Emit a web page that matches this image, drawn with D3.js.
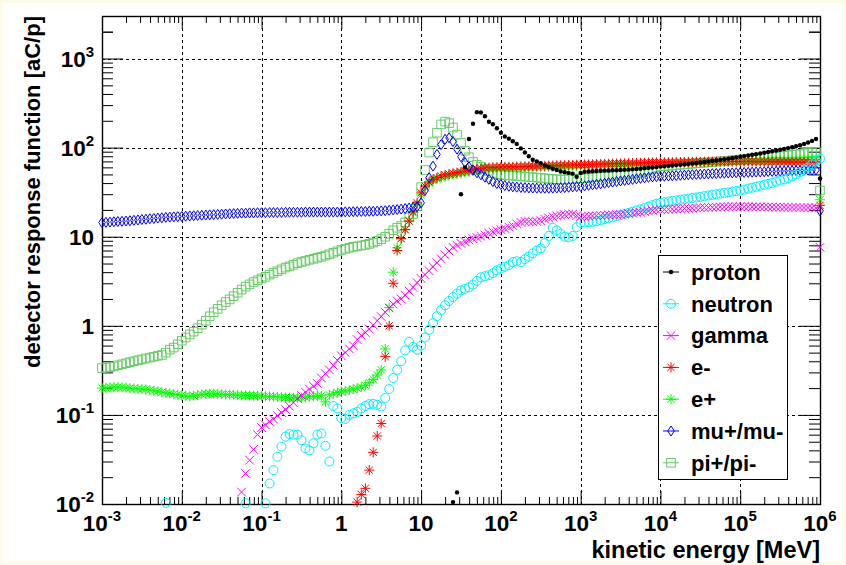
<!DOCTYPE html>
<html>
<head>
<meta charset="utf-8">
<script src="https://cdn.jsdelivr.net/npm/d3@7"></script>
<style>
  body { margin: 0; background: #fffbe9; }
  text { font-family: "Liberation Sans", Arial, Helvetica, sans-serif; font-weight: bold; fill: #000; }
</style>
</head>
<body>
<svg id="chart" width="846" height="565"></svg>
<script>
const n = null;

// energy grid: 20 points per decade, 1 keV .. 1 TeV
const mantissas = [1, 1.12, 1.26, 1.41, 1.58, 1.78, 2, 2.24, 2.51, 2.82, 3.16, 3.55, 3.98, 4.47, 5.01, 5.62, 6.31, 7.08, 7.94, 8.91];
const decades = [1e-3, 1e-2, 1e-1, 1, 10, 100, 1e3, 1e4, 1e5];
const lastEnergy = 1e6;
const energies = decades.flatMap(d => mantissas.map(m => m * d)).concat([lastEnergy]);

// response values [aC/p], one row per decade
const proton = [
  n,n,n,n,n,n,n,n,n,n,n,n,n,n,n,n,n,n,n,n,
  n,n,n,n,n,n,n,n,n,n,n,n,n,n,n,n,n,n,n,n,
  n,n,n,n,n,n,n,n,n,n,n,n,n,n,n,n,n,n,n,n,
  n,n,n,n,n,n,n,n,n,n,n,n,n,n,n,n,n,n,n,n,
  n,n,n,n,n,n,n,n,0.0105,0.0135,30,60,125,185,250,248,225,195,183,165,
  147,133,126,118,110,98,88,80,73,70,67,63,60.5,58,56,54,53,52,51,47,
  52,53.5,54,54.3,54.6,55,55.2,55.4,55.6,55.8,56,56.3,56.6,57,57.5,58,58.6,59.2,59.9,60.6,
  61.2,61.8,62.4,63,63.6,64.2,64.9,65.6,66.4,67.2,68,68.9,69.8,70.8,71.8,72.9,74,75.2,76.4,77.7,
  79,80.3,81.6,83,84.5,86,87.6,89.2,91,92.8,94.6,96.6,98.8,101,103.5,106.5,110,114,119,125,
  45
];
const neutron = [
  n,n,n,n,n,n,n,n,n,n,n,n,n,n,n,n,0.0103,n,n,n,
  n,n,n,n,n,n,n,n,n,n,n,n,n,n,n,n,0.0102,n,n,n,
  n,0.0102,0.017,0.024,0.034,0.044,0.057,0.061,0.06,0.06,0.052,0.042,0.04,0.048,0.06,0.062,0.045,0.03,0.126,0.118,
  0.092,0.09,0.1,0.104,0.108,0.118,0.126,0.132,0.133,0.13,0.124,0.155,0.195,0.26,0.32,0.4,0.53,0.66,0.58,0.54,
  0.6,0.74,0.9,1.07,1.28,1.5,1.7,1.9,2.1,2.3,2.5,2.6,2.7,2.9,3.2,3.5,3.6,3.7,3.9,4.2,
  4.4,4.6,4.8,5.2,5.3,5.2,5.6,6,6.5,7,7.4,8.5,10.2,12.6,11.8,10.8,10,9.8,10.2,12.8,
  14.3,14.5,14.6,14.7,14.9,15.3,15.7,16.1,16.5,17,17.5,18,18.5,19.1,19.7,20.3,21,21.8,22.6,23.4,
  24,24.4,24.8,25.2,25.6,26,26.4,26.8,27.2,27.6,28,28.5,29,29.5,30,30.5,31,31.5,32,32.5,
  33,33.8,34.6,35.5,36.4,37.3,38.2,39.2,40.3,41.5,42.8,44,45.5,47.5,50,53,56,60,65,71,
  75
];
const gamma = [
  n,n,n,n,n,n,n,n,n,n,n,n,n,n,n,n,n,n,n,n,
  n,n,n,n,n,n,n,n,n,n,n,n,n,n,n,0.0136,0.022,0.031,0.041,0.06,
  0.072,0.077,0.084,0.09,0.098,0.106,0.115,0.125,0.137,0.152,0.165,0.18,0.195,0.21,0.225,0.26,0.29,0.32,0.36,0.41,
  0.46,0.5,0.55,0.6,0.7,0.78,0.84,0.92,1.02,1.14,1.27,1.42,1.58,1.75,1.9,2,2.2,2.45,2.7,3.05,
  3.4,3.75,4.15,4.6,5.1,5.65,6.25,6.9,7.6,8,8.4,8.8,9.2,9.5,9.8,10.1,10.5,10.9,11.3,11.7,
  12,12.4,12.8,13.3,13.9,14.5,14.8,14.8,14.7,14.8,15.2,15.7,16.2,16.7,17.1,17.4,17.7,18,18,17.2,
  16.8,16.9,17,17.1,17.2,17.3,17.4,17.5,17.6,17.7,17.8,18,18.2,18.4,18.6,18.8,19.1,19.4,19.7,20,
  20.1,20.2,20.3,20.4,20.5,20.6,20.7,20.8,20.9,21,21.1,21.2,21.3,21.4,21.5,21.6,21.6,21.7,21.7,21.7,
  21.7,21.7,21.7,21.6,21.6,21.6,21.5,21.5,21.5,21.4,21.4,21.4,21.3,21.3,21.3,21.2,21.2,21.2,21.1,21.1,
  7.6
];
const eMinus = [
  n,n,n,n,n,n,n,n,n,n,n,n,n,n,n,n,n,n,n,n,
  n,n,n,n,n,n,n,n,n,n,n,n,n,n,n,n,n,n,n,n,
  n,n,n,n,n,n,n,n,n,n,n,n,n,n,n,n,n,n,n,n,
  n,n,n,n,0.0105,0.0128,0.015,0.024,0.038,0.058,0.08,0.45,1,3,7,9.5,12,15,19,24,
  31,37,41,44,46,48,49.5,50.5,51.5,52.5,53.5,54.5,55.5,56.5,57.5,58.5,59.2,59.6,60,60.3,
  60.5,60.7,60.9,61,61.2,61.4,61.6,61.8,62,62.2,62.4,62.6,62.8,63,63.2,63.4,63.6,63.8,64,64.2,
  64.4,64.6,64.8,65,65.2,65.4,65.6,65.8,66,66.2,66.4,66.6,66.8,67,67.2,67.4,67.6,67.8,68,68.2,
  68.4,68.5,68.6,68.7,68.8,68.9,69,69.1,69.2,69.3,69.4,69.5,69.6,69.7,69.8,69.9,70,70,70,70,
  70,70,69.9,69.8,69.7,69.6,69.5,69.4,69.3,69.2,69.1,69,68.9,68.8,68.7,68.6,68.5,68.4,68.3,68.2,
  22.5
];
const ePlus = [
  0.2,0.202,0.204,0.205,0.205,0.204,0.202,0.2,0.198,0.196,0.195,0.193,0.19,0.187,0.184,0.18,0.177,0.174,0.171,0.169,
  0.166,0.163,0.162,0.164,0.167,0.17,0.172,0.173,0.173,0.172,0.171,0.17,0.169,0.168,0.167,0.166,0.165,0.165,0.164,0.164,
  0.163,0.162,0.161,0.16,0.159,0.158,0.157,0.156,0.155,0.155,0.156,0.158,0.16,0.162,0.163,0.164,0.14,0.168,0.172,0.178,
  0.182,0.186,0.19,0.195,0.2,0.205,0.215,0.23,0.25,0.28,0.32,0.55,1.6,4,7.5,9.5,12,15,18.5,23,
  29.5,35.5,39.5,42.5,44.5,46,47.5,48.5,49.5,50.5,51.5,52.5,53.5,54.5,55.5,56.2,57,57.5,58,58.3,
  58.5,58.7,58.9,59,59.2,59.4,59.6,59.8,60,60.2,60.4,60.6,60.8,61,61.2,61.4,61.6,61.8,62,62.2,
  62.4,62.6,62.8,63,63.2,63.4,63.6,63.8,64,64.2,64.4,64.6,64.8,65,65.2,65.4,65.6,65.8,66,66.2,
  66.4,66.6,66.8,67,67.2,67.4,67.6,67.8,68,68.2,68.4,68.6,68.8,69,69.2,69.4,69.6,69.8,70,70.2,
  70.4,70.6,70.8,71,71.2,71.4,71.6,71.8,72,72.2,72.4,72.6,72.8,73,73.2,73.4,73.6,73.8,74,74.2,
  26
];
const muon = [
  14.4,14.5,14.6,14.7,14.8,14.9,15,15.1,15.3,15.4,15.6,15.7,15.9,16,16.2,16.3,16.5,16.6,16.7,16.8,
  16.9,17,17.1,17.2,17.3,17.4,17.5,17.6,17.7,17.8,17.9,18,18.1,18.2,18.3,18.4,18.4,18.5,18.5,18.6,
  18.6,18.6,18.7,18.7,18.7,18.7,18.8,18.8,18.8,18.8,18.8,18.9,18.9,18.9,18.9,18.9,18.9,18.9,18.9,18.9,
  18.9,19,19,19.1,19.1,19.2,19.2,19.3,19.3,19.4,19.5,19.6,19.8,20,20.2,20.4,20.7,21,21.3,21.7,
  24,33,46,62,84,108,124,129,117,96,79,68,61,56,52,49.5,46.5,44,41.5,39.5,
  38.5,37.5,36.8,36.3,36,35.7,35.5,35.3,35.2,35.1,35,35,35,35.1,35.2,35.4,35.6,35.9,36.2,36.5,
  36.8,37.2,37.7,38.2,38.7,39.2,39.8,40.4,41,41.6,42.2,42.8,43.4,44,44.6,45.2,45.8,46.3,46.8,47.2,
  47.4,47.7,48,48.3,48.6,48.9,49.2,49.5,49.8,50,50.3,50.5,50.8,51,51.2,51.4,51.6,51.8,52,52.2,
  52.4,52.6,52.8,53,53.2,53.4,53.6,53.8,54,54.2,54.4,54.6,54.8,55,55.2,55.4,55.6,55.8,56,56.2,
  19.5
];
const pion = [
  0.335,0.34,0.345,0.35,0.36,0.37,0.38,0.39,0.4,0.41,0.42,0.43,0.44,0.45,0.46,0.47,0.5,0.54,0.57,0.62,
  0.68,0.74,0.8,0.86,0.94,1.03,1.14,1.28,1.42,1.55,1.7,1.85,1.98,2.15,2.35,2.55,2.75,2.92,3.1,3.25,
  3.4,3.55,3.75,3.92,4.1,4.3,4.5,4.65,4.85,5.05,5.2,5.35,5.5,5.65,5.8,5.95,6.15,6.35,6.6,6.85,
  7.1,7.3,7.5,7.7,7.8,7.95,8.1,8.3,8.6,8.95,9.4,10,10.8,11.8,12.6,13.2,14.5,16.5,18,22,
  36,56,88,115,147,182,196,188,168,140,113,92,78,69,64,61,58,55,52,50.5,
  49.5,49,48.6,48.4,48,47.6,47.2,46.8,46.4,46,45.6,45.2,44.8,44.4,44.1,44,44,44.2,44.5,44.8,
  45,45.4,45.8,46.2,46.6,47,47.4,47.8,48.2,48.8,49.4,50,50.6,51.2,52,53,54.5,56,58,60,
  61.5,62,62.5,63,63.6,64.2,64.8,65.4,66,66.6,67.2,67.8,68.4,69,69.6,70.2,70.8,71.4,72,72.6,
  73.2,73.8,74.4,75,75.6,76.2,77,77.8,78.6,79.4,80.2,81,82,83,84,85,86.2,87.4,88.6,89.8,
  33
];

const xTickExps = [-3, -2, -1, 0, 1, 2, 3, 4, 5, 6];
const yTickExps = [-2, -1, 0, 1, 2, 3];

const series = [
  { name: "proton",  values: proton,  color: "#000000", marker: "dot" },
  { name: "neutron", values: neutron, color: "#00f0ff", marker: "circle" },
  { name: "gamma",   values: gamma,   color: "#ff00ff", marker: "times" },
  { name: "e-",      values: eMinus,  color: "#ff0000", marker: "star" },
  { name: "e+",      values: ePlus,   color: "#00ff00", marker: "star" },
  { name: "mu+/mu-", values: muon,    color: "#0000ff", marker: "diamond" },
  { name: "pi+/pi-", values: pion,    color: "#66cc66", marker: "square" }
];
const drawOrder = ["pi+/pi-", "e+", "e-", "mu+/mu-", "neutron", "gamma", "proton"];

const W = 846, H = 565;
const frame = { left: 102, right: 820, top: 16, bottom: 504 };

const svg = d3.select("#chart");
svg.append("rect").attr("width", W).attr("height", H).attr("fill", "#fffbe9");
svg.append("rect").attr("x", 3).attr("y", 3).attr("width", 839).attr("height", 559).attr("fill", "#fff");

const x = d3.scaleLog().domain([1e-3, 1e6]).range([frame.left, frame.right]);
const y = d3.scaleLog().domain([0.01, 3000]).range([frame.bottom, frame.top]);

const xMajor = xTickExps.map(e => Math.pow(10, e));
const yMajor = yTickExps.map(e => Math.pow(10, e));
const minorMult = [2, 3, 4, 5, 6, 7, 8, 9];
const xMinor = xMajor.slice(0, -1).flatMap(d => minorMult.map(m => m * d));
const yMinor = yMajor.concat([1e3]).flatMap(d => minorMult.map(m => m * d)).filter(v => v < 3000);

// grid
const grid = svg.append("g").attr("stroke", "#000").attr("stroke-width", 1).attr("stroke-dasharray", "3,3");
grid.selectAll(".gx").data(xMajor.slice(1, -1)).enter().append("line")
  .attr("x1", d => Math.round(x(d)) + 0.5).attr("x2", d => Math.round(x(d)) + 0.5)
  .attr("y1", frame.top).attr("y2", frame.bottom);
grid.selectAll(".gy").data(yMajor.slice(1)).enter().append("line")
  .attr("y1", d => Math.round(y(d)) + 0.5).attr("y2", d => Math.round(y(d)) + 0.5)
  .attr("x1", frame.left).attr("x2", frame.right);

// tick marks on all four sides, pointing inward
function ticks(axis, tx, ty) {
  const g = svg.append("g").attr("transform", `translate(${tx},${ty})`).call(axis);
  g.select(".domain").remove();
  g.selectAll("text").remove();
  g.selectAll("line").attr("stroke", "#000");
}
ticks(d3.axisBottom(x).tickValues(xMajor).tickSize(-13).tickSizeOuter(0), 0, frame.bottom);
ticks(d3.axisBottom(x).tickValues(xMinor).tickSize(-7).tickSizeOuter(0), 0, frame.bottom);
ticks(d3.axisTop(x).tickValues(xMajor).tickSize(-13).tickSizeOuter(0), 0, frame.top);
ticks(d3.axisTop(x).tickValues(xMinor).tickSize(-7).tickSizeOuter(0), 0, frame.top);
ticks(d3.axisLeft(y).tickValues(yMajor).tickSize(-21).tickSizeOuter(0), frame.left, 0);
ticks(d3.axisLeft(y).tickValues(yMinor).tickSize(-11).tickSizeOuter(0), frame.left, 0);
ticks(d3.axisRight(y).tickValues(yMajor).tickSize(-21).tickSizeOuter(0), frame.right, 0);
ticks(d3.axisRight(y).tickValues(yMinor).tickSize(-11).tickSizeOuter(0), frame.right, 0);

svg.append("rect")
  .attr("x", frame.left + 0.5).attr("y", frame.top + 0.5)
  .attr("width", frame.right - frame.left).attr("height", frame.bottom - frame.top)
  .attr("fill", "none").attr("stroke", "#000").attr("stroke-width", 1.4);

// power-of-ten labels
function powLabel(sel, e) {
  if (e === 0) { sel.text("1"); return; }
  if (e === 1) { sel.text("10"); return; }
  sel.append("tspan").text("10");
  sel.append("tspan").attr("dy", -10).style("font-size", "15px").text(e);
}
xTickExps.forEach(e => {
  svg.append("text").attr("x", x(Math.pow(10, e))).attr("y", 531)
    .attr("text-anchor", "middle").style("font-size", "22.5px").call(powLabel, e);
});
yTickExps.forEach(e => {
  svg.append("text").attr("x", 94).attr("y", y(Math.pow(10, e)) + 8)
    .attr("text-anchor", "end").style("font-size", "22.5px").call(powLabel, e);
});

svg.append("text").attr("x", 820).attr("y", 558).attr("text-anchor", "end")
  .style("font-size", "23.5px").text("kinetic energy [MeV]");
svg.append("text").attr("transform", "translate(40,16) rotate(-90)").attr("text-anchor", "end")
  .style("font-size", "22px").text("detector response function [aC/p]");

// marker shapes (ROOT style)
function markerPath(type) {
  switch (type) {
    case "circle": return "M4.5,0A4.5,4.5 0 1,1 -4.5,0A4.5,4.5 0 1,1 4.5,0Z";
    case "square": return "M-4.3,-4.3H4.3V4.3H-4.3Z";
    case "diamond": return "M0,-5L3.3,0L0,5L-3.3,0Z";
    case "times": return "M-4.3,-4.3L4.3,4.3M-4.3,4.3L4.3,-4.3";
    case "star": return "M-5,0H5M0,-5V5M-3.6,-3.6L3.6,3.6M-3.6,3.6L3.6,-3.6";
    default: return "M2.2,0A2.2,2.2 0 1,1 -2.2,0A2.2,2.2 0 1,1 2.2,0Z";
  }
}
function styleMarker(sel, s) {
  if (s.marker === "dot") sel.attr("fill", s.color).attr("stroke", "none");
  else sel.attr("fill", "none").attr("stroke", s.color).attr("stroke-width", 1);
}

const plot = svg.append("g");
drawOrder.forEach(name => {
  const s = series.find(d => d.name === name);
  const pts = energies.map((e, i) => ({ e: e, v: s.values[i] }))
    .filter(d => d.v !== null && d.v >= 0.01 && d.v <= 3000);
  plot.append("g").selectAll("path").data(pts).enter().append("path")
    .attr("d", markerPath(s.marker))
    .attr("transform", d => `translate(${x(d.e)},${y(d.v)})`)
    .call(styleMarker, s);
});

// legend
const legend = svg.append("g");
legend.append("rect").attr("x", 658.5).attr("y", 255.5).attr("width", 129).attr("height", 224)
  .attr("fill", "#fff").attr("stroke", "#000").attr("stroke-width", 1);
series.forEach((s, i) => {
  const ly = 272 + i * 31.8;
  legend.append("line").attr("x1", 663).attr("x2", 679).attr("y1", ly).attr("y2", ly)
    .attr("stroke", s.color).attr("stroke-width", 1);
  legend.append("path").attr("d", markerPath(s.marker))
    .attr("transform", `translate(671,${ly})`).call(styleMarker, s);
  legend.append("text").attr("x", 691).attr("y", ly).attr("dy", "0.35em")
    .style("font-size", "22px").text(s.name);
});
</script>
</body>
</html>
